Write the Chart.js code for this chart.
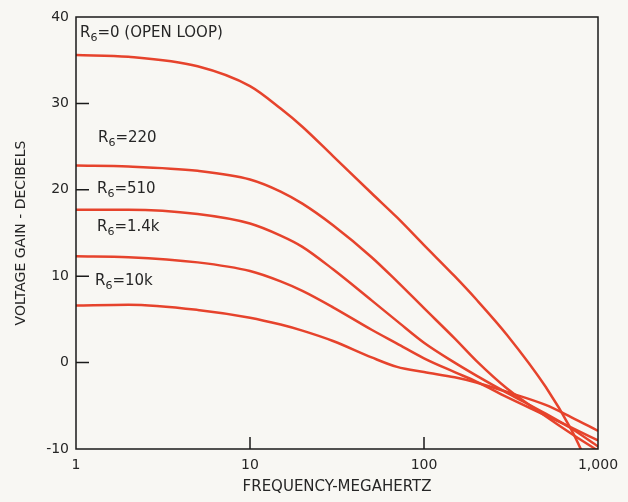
<!DOCTYPE html>
<html>
<head>
<meta charset="utf-8">
<script src="https://cdn.jsdelivr.net/npm/chart.js@4/dist/chart.umd.min.js"></script>
<style>
  html, body { margin: 0; padding: 0; background: #f8f7f3; }
</style>
</head>
<body>
<canvas id="gainChart" width="628" height="502"></canvas>
<script>
// Frequency points (MHz)
const freqs = [1, 2, 5, 10, 15, 20, 30, 50, 70, 100, 150, 200, 300, 500, 700, 1000];
const freqsOpen = [1, 2, 5, 10, 15, 20, 30, 50, 70, 100, 150, 200, 300, 500, 700, 800, 1000];

// Voltage gain (dB) per feedback resistor
const gainOpenLoop = [35.6, 35.4, 34.3, 32.0, 29.4, 27.3, 23.9, 19.6, 16.8, 13.6, 10.0, 7.3, 3.2, -2.8, -7.7, -10.1, -14.6];
const gain220 = [22.8, 22.7, 22.2, 21.2, 19.8, 18.4, 15.9, 12.2, 9.4, 6.3, 2.8, 0.2, -3.0, -6.2, -8.2, -10.2];
const gain510 = [17.7, 17.7, 17.2, 16.1, 14.7, 13.4, 10.8, 7.2, 4.8, 2.3, 0.0, -1.5, -3.5, -5.9, -7.6, -9.7];
const gain1k4 = [12.3, 12.2, 11.6, 10.6, 9.4, 8.3, 6.4, 3.8, 2.2, 0.5, -1.1, -2.2, -4.0, -6.1, -7.5, -9.0];
const gain10k = [6.6, 6.7, 6.1, 5.2, 4.4, 3.7, 2.5, 0.6, -0.5, -1.1, -1.7, -2.3, -3.4, -4.9, -6.3, -7.9];

const curveNames = ['0 (OPEN LOOP)', '220', '510', '1.4k', '10k'];
const xTicks = [1, 10, 100, 1000];
const yInnerTicks = [0, 10, 20, 30];
const xInnerTicks = [10, 100];

const colors = {
    line: '#e6432c',
    ink: '#262626',
    paper: '#f8f7f3'
};

function toPoints(xs, ys) {
    return xs.map((f, i) => ({ x: f, y: ys[i] }));
}

function curve(xs, ys) {
    return {
        data: toPoints(xs, ys),
        showLine: true,
        borderColor: colors.line,
        borderWidth: 2.5,
        pointRadius: 0,
        cubicInterpolationMode: 'monotone',
        fill: false
    };
}

// where the R6 labels sit, relative to the plot box (left, baseline)
const labelSpots = [[4, 20], [22, 125], [21, 176], [21, 214], [19, 268]];

function drawR6(ctx, text, x, y) {
    ctx.font = '15px "DejaVu Sans"';
    ctx.fillText('R', x, y);
    let w = ctx.measureText('R').width;
    ctx.font = '11px "DejaVu Sans"';
    ctx.fillText('6', x + w, y + 4);
    w += ctx.measureText('6').width;
    ctx.font = '15px "DejaVu Sans"';
    ctx.fillText('=' + text, x + w, y);
}

const framePlugin = {
    id: 'frame',
    beforeDraw(chart) {
        const { ctx, width, height } = chart;
        ctx.save();
        ctx.fillStyle = colors.paper;
        ctx.fillRect(0, 0, width, height);
        ctx.restore();
    },
    afterDraw(chart) {
        const { ctx, chartArea: a, scales: { x, y } } = chart;
        ctx.save();
        ctx.strokeStyle = '#1a1a1a';
        ctx.lineWidth = 1.5;
        ctx.strokeRect(a.left, a.top, a.right - a.left, a.bottom - a.top);
        ctx.beginPath();
        yInnerTicks.forEach(v => {
            const py = y.getPixelForValue(v);
            ctx.moveTo(a.left, py);
            ctx.lineTo(a.left + 13, py);
        });
        xInnerTicks.forEach(v => {
            const px = x.getPixelForValue(v);
            ctx.moveTo(px, a.bottom);
            ctx.lineTo(px, a.bottom - 12);
        });
        ctx.stroke();

        ctx.fillStyle = colors.ink;
        ctx.textBaseline = 'alphabetic';
        curveNames.forEach((name, i) => {
            drawR6(ctx, name, a.left + labelSpots[i][0], a.top + labelSpots[i][1]);
        });
        ctx.restore();
    }
};

const tickFont = { family: '"DejaVu Sans"', size: 14 };
const titleFont = { family: '"DejaVu Sans"', size: 15 };

new Chart(document.getElementById('gainChart'), {
    type: 'scatter',
    data: {
        datasets: [
            curve(freqsOpen, gainOpenLoop),
            curve(freqs, gain220),
            curve(freqs, gain510),
            curve(freqs, gain1k4),
            curve(freqs, gain10k)
        ]
    },
    plugins: [framePlugin],
    options: {
        responsive: false,
        animation: false,
        devicePixelRatio: 1,
        layout: { padding: { top: 17, right: 30, bottom: 0, left: 0 } },
        plugins: {
            legend: { display: false },
            tooltip: { enabled: false }
        },
        scales: {
            x: {
                type: 'logarithmic',
                min: 1,
                max: 1000,
                afterBuildTicks: (scale) => { scale.ticks = xTicks.map(v => ({ value: v })); },
                afterFit: (scale) => { scale.height = 53; },
                grid: { display: false, drawTicks: false },
                border: { display: false },
                ticks: {
                    color: colors.ink,
                    font: tickFont,
                    padding: 8,
                    maxRotation: 0,
                    autoSkip: false,
                    callback: (value) => value.toLocaleString('en-US')
                },
                title: {
                    display: true,
                    text: 'FREQUENCY-MEGAHERTZ',
                    color: colors.ink,
                    font: titleFont,
                    padding: { top: 0, bottom: 6 }
                }
            },
            y: {
                min: -10,
                max: 40,
                afterFit: (scale) => { scale.width = 76; },
                grid: { display: false, drawTicks: false },
                border: { display: false },
                ticks: {
                    stepSize: 10,
                    color: colors.ink,
                    font: tickFont,
                    padding: 7
                },
                title: {
                    display: true,
                    text: 'VOLTAGE GAIN - DECIBELS',
                    color: colors.ink,
                    font: { family: '"DejaVu Sans"', size: 14 },
                    padding: { top: 13, bottom: 0 }
                }
            }
        }
    }
});
</script>
</body>
</html>
